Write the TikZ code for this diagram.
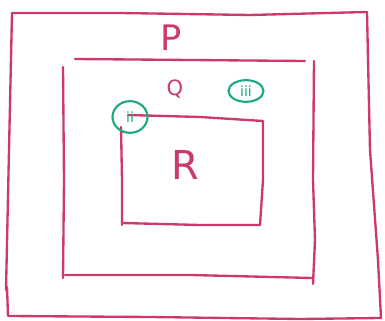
\documentclass[tikz,border=0pt]{standalone}
\usepackage{fontspec}
\setsansfont{DejaVu Sans}
\usetikzlibrary{positioning, calc, shapes.geometric}
\definecolor{Rose}{HTML}{CC3A6C}
\definecolor{Mint}{HTML}{1DA884}
\tikzset{
    inkline/.style={draw=Rose, line width=2pt, line cap=round, line join=round},
    setlabel/.style={text=Rose, font=\sffamily, inner sep=0pt},
    tag/.style={ellipse, draw=Mint, line width=1.8pt, text=Mint, font=\sffamily\fontsize{12}{12}\selectfont, inner sep=1pt},
}
\begin{document}
\begin{tikzpicture}[x=0.03cm, y=-0.03cm]
    \useasboundingbox (0,0) rectangle (385,321);
    % outer set P
    \draw[inkline] (12,13) -- (120,13) -- (250,15) -- (367,12) -- (370,150) -- (378,260) -- (381,318);
    \draw[inkline] (12,13) -- (9,150) -- (6,290);
    \draw[inkline] (7,287) -- (8,316) -- (150,317) -- (300,319) -- (381,318);
    % middle set Q
    \draw[inkline] (75,59) -- (190,60) -- (305,61);
    \draw[inkline] (314,61) -- (313,180) -- (315,240) -- (313,284);
    \draw[inkline] (63,67) -- (64,180) -- (63,278);
    \draw[inkline] (65,275) -- (190,275) -- (312,278);
    % inner set R
    \draw[inkline] (128,115) -- (200,117) -- (263,121) -- (263,180) -- (260,225);
    \draw[inkline] (121,127) -- (122,180) -- (122,225);
    \draw[inkline] (122,223) -- (200,225) -- (260,225);
    % labels
    \node[setlabel, font=\sffamily\fontsize{30}{30}\selectfont] (P) at (171,38) {P};
    \node[setlabel, font=\sffamily\fontsize{18}{18}\selectfont] (Q) at (175,89) {Q};
    \node[setlabel, font=\sffamily\fontsize{34}{34}\selectfont] (R) at (185,165) {R};
    \node[tag, minimum width=1.05cm, minimum height=0.95cm] (ii) at (130,117) {ii};
    \node[tag, minimum width=1.05cm, minimum height=0.65cm] (iii) at (246,91) {iii};
\end{tikzpicture}
\end{document}
